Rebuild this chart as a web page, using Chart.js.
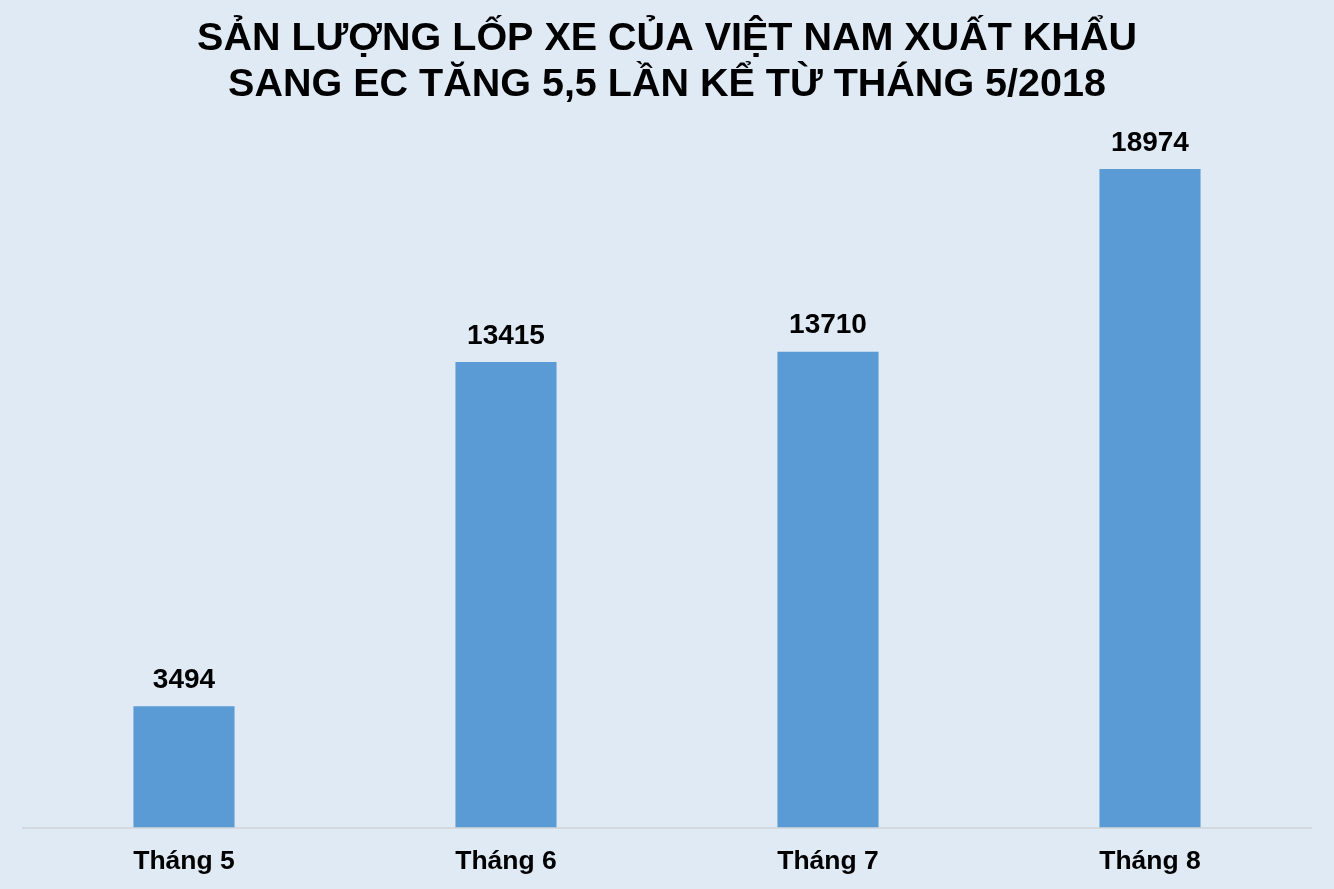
<!DOCTYPE html>
<html>
<head>
<meta charset="utf-8">
<script src="https://cdn.jsdelivr.net/npm/chart.js@4"></script>
<style>
  html, body { margin: 0; padding: 0; background: #dfeaf5; }
  #wrap { width: 1334px; height: 889px; }
</style>
</head>
<body>
<div id="wrap"><canvas id="js-tire-chart"></canvas></div>
<script>
const months = ['Tháng 5', 'Tháng 6', 'Tháng 7', 'Tháng 8'];
const exportValues = [3494, 13415, 13710, 18974];
const titleLines = ['SẢN LƯỢNG LỐP XE CỦA VIỆT NAM XUẤT KHẨU', 'SANG EC TĂNG 5,5 LẦN KỂ TỪ THÁNG 5/2018'];

const tireCanvas = document.querySelector('#js-tire-chart');

// simple value labels above each bar (no datalabels plugin offline)
const valueLabels = {
  id: 'valueLabels',
  afterDatasetsDraw(chart) {
    const ctx = chart.ctx;
    const meta = chart.getDatasetMeta(0);
    ctx.save();
    ctx.font = 'bold 28px "Liberation Sans", Arial, sans-serif';
    ctx.fillStyle = '#000';
    ctx.textAlign = 'center';
    ctx.textBaseline = 'middle';
    meta.data.forEach((bar, i) => {
      ctx.fillText(chart.data.datasets[0].data[i], bar.x, bar.y - 26);
    });
    ctx.restore();
  }
};

const tireData = {
  labels: months,
  datasets: [{
    data: exportValues,
    backgroundColor: '#5b9bd5',
    borderWidth: 0,
    categoryPercentage: 1,
    barPercentage: 0.314
  }]
};

const tireConfig = {
  type: 'bar',
  data: tireData,
  options: {
    responsive: true,
    maintainAspectRatio: false,
    animation: false,
    layout: {
      padding: { left: 23, right: 23, top: 0, bottom: -7 }
    },
    scales: {
      x: {
        grid: { display: false, drawTicks: false },
        border: { display: true, color: '#d4d9de', width: 2 },
        ticks: {
          color: '#000',
          padding: 21,
          font: { family: '"Liberation Sans", Arial, sans-serif', size: 26.5, weight: 'bold', lineHeight: 1 }
        }
      },
      y: {
        display: false,
        beginAtZero: true,
        max: 20000
      }
    },
    plugins: {
      legend: { display: false },
      tooltip: { enabled: false },
      title: {
        display: true,
        text: titleLines,
        color: '#000',
        font: { family: '"Liberation Sans", Arial, sans-serif', size: 39.5, weight: 'bold', lineHeight: 1.17 },
        padding: { top: 16, bottom: 25 }
      }
    }
  },
  plugins: [valueLabels]
};

new Chart(tireCanvas, tireConfig);
</script>
</body>
</html>
